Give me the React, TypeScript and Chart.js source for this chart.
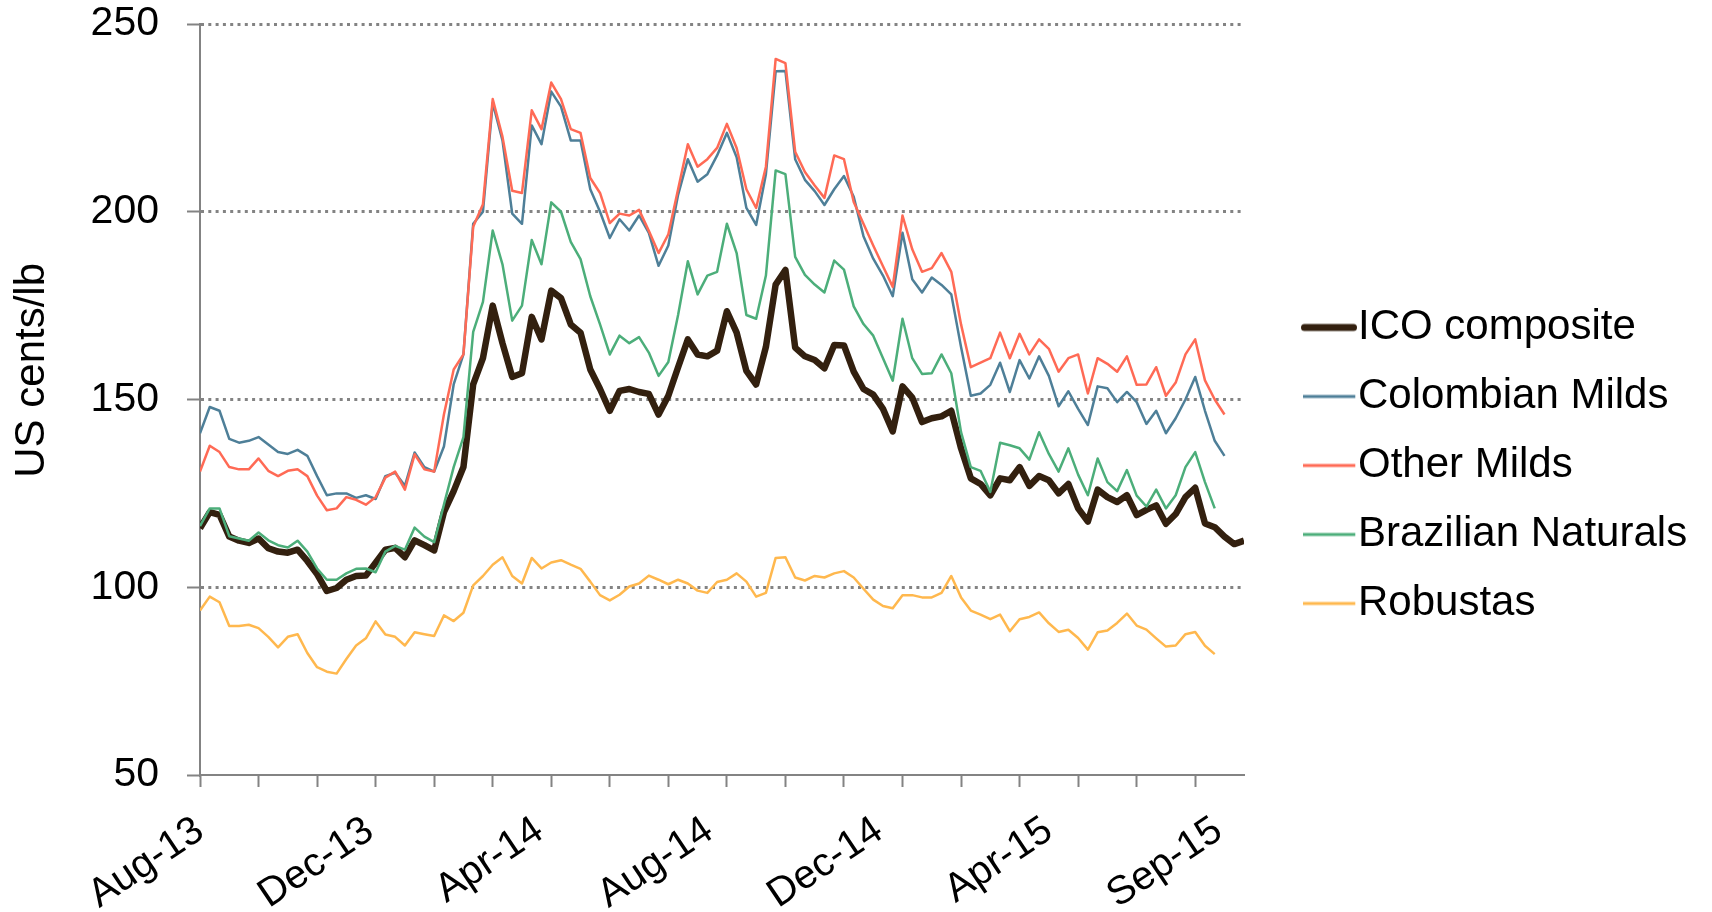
import React, { useEffect, useRef } from 'react';
import { Chart, registerables } from 'chart.js';

Chart.register(...registerables);

// Trading-day sampling of the daily series (one reading every STEP trading days)
const STEP = 5;
const LAST_DAY = 535;
const TICK_EVERY = 30;
const LABEL_EVERY = 87;
const tickLabels = ['Aug-13', 'Dec-13', 'Apr-14', 'Aug-14', 'Dec-14', 'Apr-15', 'Sep-15'];

const icoComposite = [
  115.7, 120, 119.3, 113.5, 112.4, 111.8, 113, 110.4, 109.5, 109.2,
  110, 107, 103.5, 99, 99.8, 102, 103, 103.1, 106.5, 110,
  110.5, 108, 112.5, 111.2, 109.8, 120, 125.6, 132, 154, 161,
  175, 165, 156, 157, 172, 166, 179, 177, 170, 167.8,
  158, 152.8, 147, 152.3, 152.8, 152, 151.5, 146, 151, 158.6,
  166, 162, 161.5, 163, 173.5, 167.8, 157.6, 154, 164, 180.6,
  184.5, 163.8, 161.5, 160.5, 158.3, 164.5, 164.4, 157.4, 152.8, 151.3,
  147.5, 141.5, 153.5, 150.5, 144, 145, 145.5, 147, 137, 129,
  127.5, 124.5, 129, 128.5, 132, 127, 129.6, 128.5, 125, 127.5,
  121, 117.5, 126, 124, 122.7, 124.5, 119.2, 120.6, 121.8, 116.9,
  119.5, 124, 126.5, 117, 116, 113.5, 111.5, 112.4,
];

const colombianMilds = [
  141, 148, 147, 139.5, 138.5, 139, 140, 138, 136, 135.5,
  136.6, 135, 129.6, 124.5, 125, 125, 123.8, 124.5, 123.5, 129.6,
  130.5, 127, 135.9, 132, 130.8, 137.5, 154, 162, 196.8, 200,
  229, 219, 199.5, 196.8, 223, 218, 232, 228, 219, 219,
  206, 200, 193, 198, 195, 199, 194.4, 185.6, 191, 204.5,
  214, 208, 210, 215, 221, 214.5, 201, 196.5, 210, 237.4,
  237.5, 214, 208.5, 205.5, 201.8, 206, 209.5, 204, 193.5, 187.5,
  183, 177.5, 194.4, 182, 178.5, 182.5, 180.5, 178, 164, 151,
  151.6, 153.9, 159.8, 152, 160.5, 155.6, 161.5, 156.3, 148.2, 152.2,
  147.5, 143.2, 153.5, 153, 149.3, 152, 149.3, 143.5, 147, 141,
  145, 150, 156, 147, 139, 135,
];

const otherMilds = [
  130.8, 137.7, 136, 132, 131.4, 131.4, 134.3, 131, 129.6, 131,
  131.4, 129.6, 124.4, 120.5, 121, 124, 123.3, 122, 124, 129.2,
  130.8, 126, 135.4, 131.4, 130.8, 146, 158, 162, 196, 202,
  230, 220, 205.6, 205, 227, 222, 234.4, 230, 222, 221,
  209, 205, 197, 199.5, 199, 200.5, 194.9, 189, 194, 206,
  218, 212, 214, 217, 223.4, 217, 206, 201, 212, 240.7,
  239.6, 216, 210.6, 207, 203.7, 215, 214, 202.6, 196.8, 191,
  185.5, 180, 199, 190, 184, 185, 189, 184, 170, 158.6,
  159.8, 161, 167.8, 161, 167.5, 162, 166, 163.5, 157.4, 161,
  162, 151.6, 161, 159.5, 157.4, 161.5, 153.9, 154, 158.6, 151,
  154.5, 162, 166, 155.1, 150, 146,
];

const brazilianNaturals = [
  116.3, 121, 121, 113.6, 113, 112.4, 114.6, 112.5, 111.2, 110.6,
  112.4, 109.5, 105, 102, 102, 103.7, 104.9, 105, 104, 109.5,
  111, 110, 115.9, 113.5, 112, 122, 132, 140, 168, 176,
  195, 186, 171, 175, 192.5, 186, 202.5, 200, 192, 187.4,
  177.5, 170, 162, 167, 165, 166.6, 162.5, 156.3, 160, 172.5,
  186.8, 178, 183, 184, 196.8, 189, 172.5, 171.5, 183, 211,
  210, 188, 183.2, 180.6, 178.5, 187, 184.6, 174.8, 170.1, 167,
  161, 155, 171.5, 161, 156.8, 157, 162, 157, 141.3, 132,
  131, 125.4, 138.5, 137.8, 137, 134, 141.3, 135.5, 130.8, 137,
  130, 124.5, 134.3, 128, 125.6, 131.2, 124.4, 121.5, 126, 121,
  124.5, 132, 136, 128, 121,
];

const robustas = [
  93.8, 97.5, 96, 89.7, 89.7, 90, 89.1, 86.8, 84, 86.8,
  87.5, 82.5, 78.7, 77.5, 77, 80.9, 84.5, 86.4, 90.9, 87.4,
  86.8, 84.5, 88, 87.5, 87, 92.5, 91, 93.2, 100.5, 103,
  106, 108, 103, 101, 107.8, 105, 106.6, 107.2, 106, 104.9,
  101.5, 97.9, 96.5, 98, 100.2, 101, 103.1, 102, 100.8, 102,
  101, 99.1, 98.5, 101.4, 102, 103.7, 101.5, 97.5, 98.5, 107.8,
  108, 102.6, 101.8, 103, 102.6, 103.7, 104.3, 102.6, 99.6, 96.7,
  95, 94.4, 97.9, 97.9, 97.3, 97.3, 98.5, 103, 97.3, 93.8,
  92.7, 91.5, 92.7, 88.3, 91.5, 92.1, 93.3, 90.4, 88.1, 88.7,
  86.5, 83.4, 88, 88.5, 90.5, 93, 89.8, 88.7, 86.4, 84.2,
  84.5, 87.5, 88.1, 84.4, 82.2,
];

const seriesNames = ['ICO composite', 'Colombian Milds', 'Other Milds', 'Brazilian Naturals', 'Robustas'];
const seriesValues = [icoComposite, colombianMilds, otherMilds, brazilianNaturals, robustas];
const seriesColors = ['#33200f', '#4e7f98', '#ff6a55', '#4cae7a', '#ffb84e'];
const seriesWidths = [6.5, 2.5, 2.5, 2.5, 2.5];

const FONT = "'Liberation Sans', Arial, Helvetica, sans-serif";
const GRAY = '#838383';
const LEGEND_WIDTH = 468;

function toPoints(values: number[]) {
  return values.map((v, i) => ({ x: i * STEP, y: v }));
}

function buildTickValues() {
  const set = new Set<number>();
  for (let v = 0; v <= LAST_DAY; v += TICK_EVERY) set.add(v);
  for (let k = 0; k < tickLabels.length; k++) set.add(k * LABEL_EVERY);
  return Array.from(set).sort((a, b) => a - b);
}

function makeLegendMarker(color: string, width: number, thick: boolean) {
  const c = document.createElement('canvas');
  c.width = 110;
  c.height = 16;
  const g = c.getContext('2d')!;
  g.strokeStyle = color;
  g.lineWidth = width;
  g.lineCap = thick ? 'round' : 'butt';
  g.beginPath();
  g.moveTo(thick ? 55.5 : 54, 8);
  g.lineTo(thick ? 104.5 : 106.3, 8);
  g.stroke();
  return c;
}

// lets the right-hand legend keep its full text width
const legendWidthPlugin = {
  id: 'legendWidth',
  afterInit(chart: any) {
    const lg = chart.legend;
    if (!lg || lg.__wide) return;
    const fit = lg.fit.bind(lg);
    lg.fit = () => {
      fit();
      lg.width = LEGEND_WIDTH;
    };
    lg.__wide = true;
  },
};

export default function App() {
  const canvasRef = useRef<HTMLCanvasElement | null>(null);

  useEffect(() => {
    const canvas = canvasRef.current;
    if (!canvas) return;
    const tickValues = buildTickValues();
    const markers = seriesNames.map((_, i) => makeLegendMarker(seriesColors[i], i === 0 ? 7 : 3, i === 0));

    const chart = new Chart(canvas, {
      type: 'line',
      data: {
        datasets: seriesNames.map((name, i) => ({
          label: name,
          data: toPoints(seriesValues[i]),
          borderColor: seriesColors[i],
          backgroundColor: seriesColors[i],
          borderWidth: seriesWidths[i],
          pointRadius: 0,
          tension: 0,
          fill: false,
          borderJoinStyle: 'round' as const,
          order: seriesNames.length - i,
        })),
      },
      plugins: [legendWidthPlugin],
      options: {
        animation: false,
        responsive: false,
        maintainAspectRatio: false,
        layout: { padding: { top: 19, right: 0, bottom: 0, left: 0 } },
        plugins: {
          legend: {
            position: 'right',
            labels: {
              usePointStyle: true,
              pointStyleWidth: 66,
              padding: 27,
              color: '#000',
              font: { family: FONT, size: 42 },
              generateLabels: (ch: any) =>
                ch.data.datasets.map((ds: any, i: number) => ({
                  text: ds.label,
                  datasetIndex: i,
                  pointStyle: markers[i],
                  fillStyle: 'rgba(0,0,0,0)',
                  strokeStyle: 'rgba(0,0,0,0)',
                  lineWidth: 0,
                  hidden: false,
                  fontColor: '#000',
                })),
            },
          },
          tooltip: { enabled: false },
        },
        scales: {
          x: {
            type: 'linear',
            min: 0,
            max: LAST_DAY,
            afterBuildTicks: (scale: any) => {
              scale.ticks = tickValues.map((v) => ({ value: v }));
            },
            afterFit: (scale: any) => {
              scale.height = 137;
            },
            ticks: {
              autoSkip: false,
              maxRotation: 34,
              minRotation: 34,
              padding: 20,
              color: '#000',
              font: { family: FONT, size: 40 },
              callback: (value: any) => {
                const v = Number(value);
                return v % LABEL_EVERY === 0 ? tickLabels[v / LABEL_EVERY] : '';
              },
            },
            grid: {
              drawOnChartArea: false,
              drawTicks: true,
              tickLength: 12,
              tickWidth: 2,
              tickColor: (ctx: any) =>
                ctx.tick && ctx.tick.value % TICK_EVERY === 0 ? GRAY : 'rgba(0,0,0,0)',
            },
            border: { color: GRAY, width: 2 },
          },
          y: {
            min: 50,
            max: 250,
            afterFit: (scale: any) => {
              scale.width = 200;
              scale.paddingTop = 24;
              scale.paddingBottom = 24;
            },
            ticks: {
              stepSize: 50,
              padding: 28,
              color: '#000',
              font: { family: FONT, size: 41 },
            },
            grid: {
              color: (ctx: any) => (ctx.tick && ctx.tick.value === 50 ? 'rgba(0,0,0,0)' : GRAY),
              lineWidth: 3,
              tickLength: 13,
              tickWidth: 2,
              tickColor: GRAY,
            },
            border: { color: GRAY, width: 2, dash: [3, 4.3] },
            title: {
              display: true,
              text: '\u00a0\u00a0\u00a0\u00a0\u00a0US cents/lb',
              color: '#000',
              font: { family: FONT, size: 42 },
              padding: { top: 7, bottom: 0 },
            },
          },
        },
      } as any,
    });

    return () => {
      chart.destroy();
    };
  }, []);

  return (
    <div style={{ position: 'fixed', left: 0, top: 0, width: '1712px', height: '912px', background: '#fff' }}>
      <canvas ref={canvasRef} width={1712} height={912} style={{ display: 'block' }} />
    </div>
  );
}
